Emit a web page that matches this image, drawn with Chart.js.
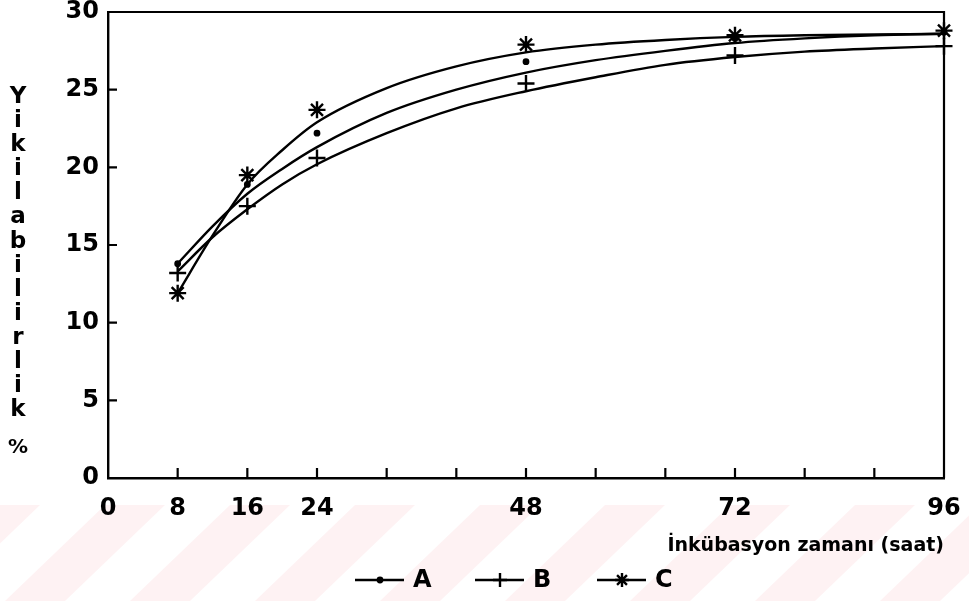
<!DOCTYPE html>
<html>
<head>
<meta charset="utf-8">
<script src="https://cdn.jsdelivr.net/npm/chart.js@4.4.1/dist/chart.umd.min.js"></script>
<style>
  body { margin: 0; background: #fff; }
  #wrap { width: 969px; height: 601px; }
</style>
</head>
<body>
<div id="wrap"><canvas id="yikimChart" width="969" height="601"></canvas></div>
<script>
// measured points
const hours = [8, 16, 24, 48, 72, 96];
const seriesA = [13.8, 18.9, 22.2, 26.8, 28.3, 28.7];
const seriesB = [13.2, 17.5, 20.6, 25.4, 27.2, 27.8];
const seriesC = [11.9, 19.5, 23.7, 27.9, 28.5, 28.8];

// fitted curves
const curveHours = [8, 12, 16, 20, 24, 32, 40, 48, 56, 64, 72, 80, 88, 96];
const curveA = [13.8, 16.2, 18.3, 19.9, 21.3, 23.5, 25.0, 26.1, 26.9, 27.5, 28.0, 28.3, 28.5, 28.6];
const curveB = [13.3, 15.5, 17.3, 18.9, 20.2, 22.2, 23.8, 24.9, 25.8, 26.6, 27.1, 27.45, 27.65, 27.8];
const curveC = [11.9, 15.6, 18.9, 21.1, 22.9, 25.1, 26.5, 27.4, 27.9, 28.2, 28.4, 28.5, 28.55, 28.6];

const xLabels = [0, 8, 16, 24, 48, 72, 96];
const seriesNames = ['A', 'B', 'C'];
const yTitle = ['Y', 'i', 'k', 'i', 'l', 'a', 'b', 'i', 'l', 'i', 'r', 'l', 'i', 'k'];

const FONT = 'DejaVu Sans';
const pts = (xs, ys) => xs.map((x, i) => ({ x: x, y: ys[i] }));

const markerStyles = [
  { pointStyle: 'circle', radius: 2.2 },
  { pointStyle: 'cross', radius: 8.5 },
  { pointStyle: 'star', radius: 8.5 }
];

function curveSet(ys) {
  return {
    data: pts(curveHours, ys),
    showLine: true,
    borderColor: '#000',
    borderWidth: 2.4,
    pointRadius: 0,
    cubicInterpolationMode: 'monotone',
    fill: false
  };
}

function markerSet(ys, idx) {
  return {
    data: pts(hours, ys),
    showLine: false,
    pointStyle: markerStyles[idx].pointStyle,
    pointRadius: markerStyles[idx].radius,
    pointBorderWidth: 2.4,
    pointBorderColor: '#000',
    pointBackgroundColor: '#000',
    clip: false
  };
}

// faint pink diagonal bands along the bottom of the page
const backdrop = {
  id: 'backdrop',
  beforeDraw(chart) {
    const ctx = chart.ctx;
    ctx.save();
    ctx.fillStyle = 'rgba(235, 70, 90, 0.07)';
    for (let x = -120; x < 1100; x += 125) {
      ctx.beginPath();
      ctx.moveTo(x, 601);
      ctx.lineTo(x + 60, 601);
      ctx.lineTo(x + 160, 505);
      ctx.lineTo(x + 100, 505);
      ctx.closePath();
      ctx.fill();
    }
    ctx.restore();
  }
};

// box, inside ticks, vertical y title and legend
const decorations = {
  id: 'decorations',
  afterDraw(chart) {
    const ctx = chart.ctx;
    const area = chart.chartArea;
    const xs = chart.scales.x;
    const ys = chart.scales.y;
    ctx.save();
    ctx.strokeStyle = '#000';
    ctx.lineWidth = 2.2;
    ctx.beginPath();
    ctx.moveTo(area.left, area.top);
    ctx.lineTo(area.right, area.top);
    ctx.lineTo(area.right, area.bottom);
    ctx.stroke();

    ctx.beginPath();
    for (let v = 5; v < 30; v += 5) {
      const py = ys.getPixelForValue(v);
      ctx.moveTo(area.left, py);
      ctx.lineTo(area.left + 9, py);
    }
    for (let h = 8; h < 96; h += 8) {
      const px = xs.getPixelForValue(h);
      ctx.moveTo(px, area.bottom);
      ctx.lineTo(px, area.bottom - 10);
    }
    ctx.stroke();

    ctx.fillStyle = '#000';
    ctx.font = 'bold 23px "' + FONT + '"';
    ctx.textAlign = 'center';
    ctx.textBaseline = 'middle';
    yTitle.forEach((ch, i) => ctx.fillText(ch, 18, 97 + i * 24.1));
    ctx.font = 'bold 20px "' + FONT + '"';
    ctx.fillText('%', 18, 448);

    const legendY = 580;
    const startX = [355, 475, 597];
    startX.forEach((x0, i) => {
      ctx.lineWidth = 2.4;
      ctx.beginPath();
      ctx.moveTo(x0, legendY);
      ctx.lineTo(x0 + 49, legendY);
      ctx.stroke();
      Chart.helpers.drawPoint(ctx, {
        pointStyle: markerStyles[i].pointStyle,
        radius: i === 0 ? 2.2 : 7,
        borderWidth: 2.2,
        rotation: 0
      }, x0 + 25, legendY);
      ctx.font = 'bold 24px "' + FONT + '"';
      ctx.textAlign = 'left';
      ctx.fillText(seriesNames[i], x0 + 58, legendY + 1);
    });
    ctx.restore();
  }
};

const yikimChart = new Chart(document.getElementById('yikimChart').getContext('2d'), {
  type: 'scatter',
  data: {
    datasets: [
      curveSet(curveA), curveSet(curveB), curveSet(curveC),
      markerSet(seriesA, 0), markerSet(seriesB, 1), markerSet(seriesC, 2)
    ]
  },
  options: {
    responsive: false,
    animation: false,
    events: [],
    layout: { padding: { left: 0, right: 25, top: 12, bottom: 0 } },
    plugins: {
      legend: { display: false },
      tooltip: { enabled: false }
    },
    scales: {
      x: {
        type: 'linear',
        min: 0,
        max: 96,
        afterFit(scale) {
          scale.height = 123;
          scale.paddingLeft = 0;
          scale.paddingRight = 0;
        },
        grid: { drawOnChartArea: false, drawTicks: false },
        border: { display: true, color: '#000', width: 2.4 },
        ticks: {
          stepSize: 8,
          padding: 16,
          color: '#000',
          font: { family: FONT, size: 24, weight: 'bold' },
          maxRotation: 0,
          autoSkip: false,
          callback: (v) => xLabels.includes(v) ? String(v) : ''
        },
        title: {
          display: true,
          text: 'İnkübasyon zamanı (saat)',
          align: 'end',
          color: '#000',
          font: { family: FONT, size: 19, weight: 'bold' },
          padding: { top: 0, bottom: 44 }
        }
      },
      y: {
        type: 'linear',
        min: 0,
        max: 30,
        afterFit(scale) {
          scale.width = 108;
          scale.paddingTop = 0;
          scale.paddingBottom = 0;
        },
        grid: { drawOnChartArea: false, drawTicks: false },
        border: { display: true, color: '#000', width: 2.4 },
        ticks: {
          stepSize: 5,
          padding: 9,
          color: '#000',
          font: { family: FONT, size: 24, weight: 'bold' }
        }
      }
    }
  },
  plugins: [backdrop, decorations]
});
</script>
</body>
</html>
